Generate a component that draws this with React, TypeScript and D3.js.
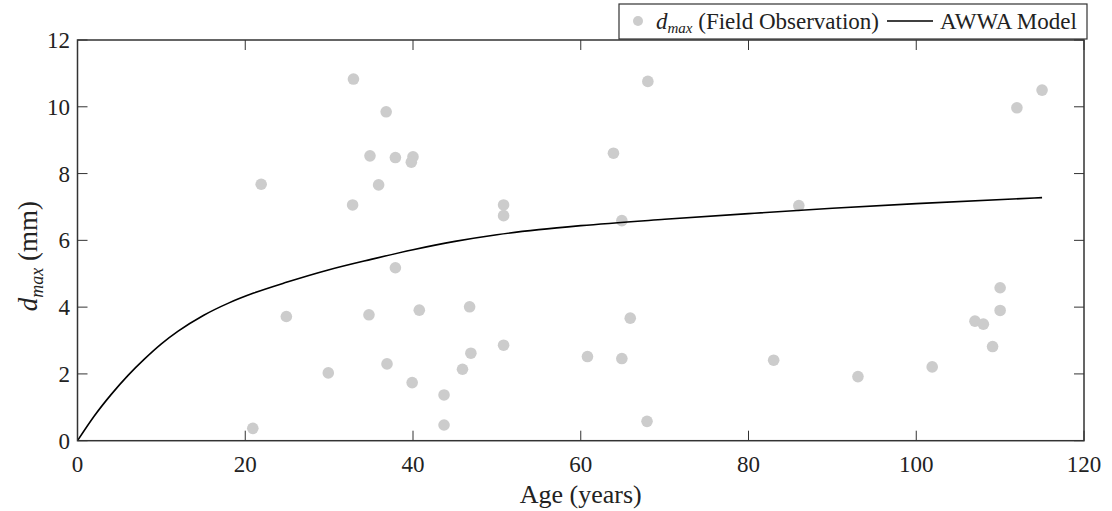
import React from "react";
import * as d3 from "d3";

const obsAge = [20.9, 21.9, 24.9, 29.9, 32.9, 32.8, 34.75, 34.87, 36.8, 35.9, 37.9, 40.0, 39.8, 50.8, 50.8, 68.0, 63.9, 64.9, 37.9, 40.75, 46.75, 50.8, 46.9, 36.9, 45.9, 39.9, 43.7, 43.7, 65.9, 60.8, 64.9, 67.9, 86.0, 83.0, 93.05, 101.9, 107.0, 108.0, 109.1, 110.0, 110.0, 112.0, 115.0];
const obsD = [0.37, 7.68, 3.72, 2.03, 10.83, 7.06, 3.77, 8.53, 9.85, 7.66, 8.48, 8.5, 8.34, 7.06, 6.74, 10.76, 8.61, 6.59, 5.18, 3.91, 4.01, 2.86, 2.62, 2.30, 2.14, 1.74, 1.37, 0.47, 3.67, 2.52, 2.46, 0.58, 7.04, 2.41, 1.92, 2.21, 3.58, 3.49, 2.82, 3.90, 4.58, 9.97, 10.5];

const modelAge = [0, 2, 4, 6, 8, 10, 12, 15, 18, 21, 25, 30, 35, 40, 45, 50, 55, 60, 70, 80, 90, 100, 115];
const modelD = [0, 0.74, 1.38, 1.95, 2.45, 2.9, 3.28, 3.75, 4.12, 4.42, 4.75, 5.12, 5.43, 5.72, 5.97, 6.17, 6.32, 6.44, 6.63, 6.8, 6.96, 7.1, 7.28];

const xTicks = [0, 20, 40, 60, 80, 100, 120];
const yTicks = [0, 2, 4, 6, 8, 10, 12];

export default function App() {
  const left = 77.5, right = 1084, top = 40, bottom = 440.7;
  const x = d3.scaleLinear().domain([0, 120]).range([left, right]);
  const y = d3.scaleLinear().domain([0, 12]).range([bottom, top]);
  const line = d3
    .line<number>()
    .x((_, i) => x(modelAge[i]))
    .y((d) => y(d))
    .curve(d3.curveMonotoneX);
  const axisColor = "#333";
  const textColor = "#222";
  const font = "'Liberation Serif', 'Times New Roman', Times, serif";
  const tickLen = 10;

  return (
    <svg
      width={1112}
      height={511}
      style={{ position: "absolute", left: 0, top: 0, background: "#fff", fontFamily: font }}
    >
      <rect x={0} y={0} width={1112} height={511} fill="#fff" />
      {obsAge.map((a, i) => (
        <circle key={i} cx={x(a)} cy={y(obsD[i])} r={5.8} fill="#cccccc" />
      ))}
      <path d={line(modelD) || ""} fill="none" stroke="#000" strokeWidth={1.6} />
      <rect x={left} y={top} width={right - left} height={bottom - top} fill="none" stroke={axisColor} strokeWidth={1.5} />
      {xTicks.map((t) => (
        <g key={"x" + t}>
          <line x1={x(t)} x2={x(t)} y1={bottom} y2={bottom - tickLen} stroke={axisColor} strokeWidth={1} />
          <line x1={x(t)} x2={x(t)} y1={top} y2={top + tickLen} stroke={axisColor} strokeWidth={1} />
          <text x={x(t)} y={472} textAnchor="middle" fontSize={23} fill={textColor}>
            {t}
          </text>
        </g>
      ))}
      {yTicks.map((t) => (
        <g key={"y" + t}>
          <line x1={left} x2={left + tickLen} y1={y(t)} y2={y(t)} stroke={axisColor} strokeWidth={1} />
          <line x1={right} x2={right - tickLen} y1={y(t)} y2={y(t)} stroke={axisColor} strokeWidth={1} />
          <text x={70} y={y(t) + 8} textAnchor="end" fontSize={23} fill={textColor}>
            {t}
          </text>
        </g>
      ))}
      <text x={(left + right) / 2} y={503} textAnchor="middle" fontSize={26} fill={textColor}>
        Age (years)
      </text>
      <text transform="translate(37,256) rotate(-90)" textAnchor="middle" fontSize={27} fill={textColor}>
        <tspan fontStyle="italic">d</tspan>
        <tspan fontStyle="italic" fontSize={18} dy={6}>max</tspan>
        <tspan dy={-6}> (mm)</tspan>
      </text>
      <rect x={619} y={4} width={468} height={35} fill="#fff" stroke={axisColor} strokeWidth={1.2} />
      <circle cx={638} cy={21} r={5} fill="#cccccc" />
      <text x={656} y={29} fontSize={23} fill={textColor}>
        <tspan fontStyle="italic">d</tspan>
        <tspan fontStyle="italic" fontSize={15} dy={4}>max</tspan>
        <tspan dy={-4}> (Field Observation)</tspan>
      </text>
      <line x1={887} x2={933} y1={21} y2={21} stroke="#000" strokeWidth={1.5} />
      <text x={940} y={29} fontSize={23} fill={textColor}>
        AWWA Model
      </text>
    </svg>
  );
}
